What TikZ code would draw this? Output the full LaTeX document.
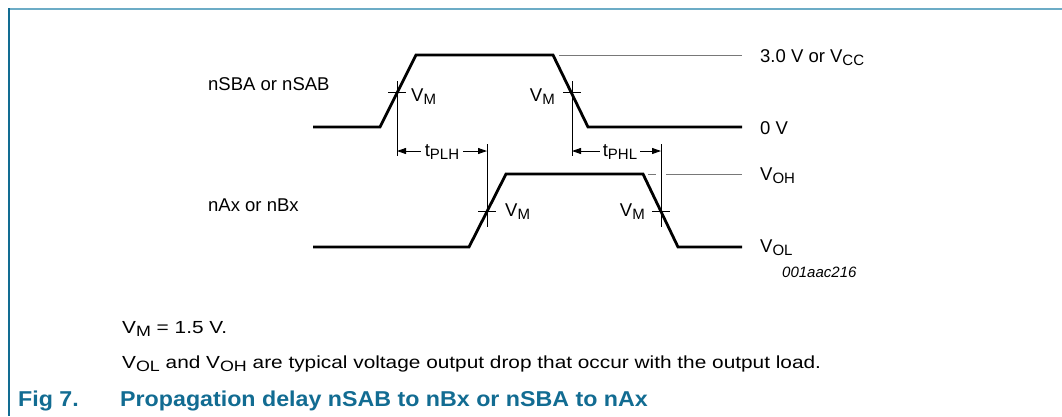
\documentclass[tikz,border=0pt]{standalone}
\usepackage{fontspec}
\setmainfont{Liberation Sans}
\newfontfamily\notefont[FakeStretch=1.19]{Liberation Sans}
\newfontfamily\capfont[FakeStretch=1.08]{Liberation Sans}
\usetikzlibrary{arrows.meta}
\definecolor{figblue}{RGB}{18,108,146}
\definecolor{framelight}{RGB}{108,172,198}
\definecolor{refgray}{RGB}{120,120,120}
\newcommand{\lo}[1]{\raisebox{-3.5pt}{\fontsize{15}{16}\selectfont #1}}
\begin{document}
\begin{tikzpicture}[x=1pt,y=-1pt,
  every node/.style={font=\fontsize{18.5}{22}\selectfont,inner sep=0pt},
  wave/.style={line width=2.8pt,line join=miter,line cap=butt},
  hair/.style={line width=0.9pt},
  reflvl/.style={line width=1pt,draw=refgray},
  dimarrow/.style={line width=0.9pt,-{Triangle[length=9pt,width=6pt]}},
  note/.style={anchor=base west,font=\notefont\fontsize{17.5}{21}\selectfont},
  caption/.style={anchor=base west,font=\capfont\fontsize{21.5}{25}\selectfont\bfseries,text=figblue}]
  \useasboundingbox (0,0) rectangle (1062,416);
  % frame
  \draw[framelight,line width=2pt] (9,9) -- (1062,9);
  \draw[figblue,line width=2pt] (9,8) -- (9,416);
  % input waveform
  \draw[wave] (313,127) -- (380,127) -- (416,55) -- (553,55) -- (588,127) -- (742,127);
  \draw[reflvl] (559,55) -- (742,55);
  % output waveform
  \draw[wave] (313,247) -- (469,247) -- (506,174) -- (643,174) -- (678,247) -- (742,247);
  \draw[reflvl] (648,174) -- (656,174);
  \draw[reflvl] (666,174) -- (742,174);
  % V_M markers
  \coordinate (mA) at (397,92);
  \coordinate (mB) at (572,92);
  \coordinate (mC) at (487,211.5);
  \coordinate (mD) at (661,211.5);
  \draw[hair] (397,81) -- (397,156);
  \draw[hair] (572,81) -- (572,156);
  \draw[hair] (487,144) -- (487,227);
  \draw[hair] (661,144) -- (661,227);
  \foreach \m in {mA,mB,mC,mD}
    \draw[hair] ([xshift=-9pt]\m) -- ([xshift=9pt]\m);
  \node[anchor=base west] (vmA) at (411,101) {V\lo{M}};
  \node[anchor=base east] (vmB) at (555,101) {V\lo{M}};
  \node[anchor=base west] (vmC) at (505,216) {V\lo{M}};
  \node[anchor=base east] (vmD) at (645,216) {V\lo{M}};
  % delays
  \coordinate (plhL) at (397,151);
  \coordinate (plhR) at (487,151);
  \coordinate (phlL) at (572,151);
  \coordinate (phlR) at (661,151);
  \node[anchor=base,inner xsep=4pt] (tplh) at (442,156) {t\lo{PLH}};
  \node[anchor=base,inner xsep=3pt] (tphl) at (620,156) {t\lo{PHL}};
  \draw[dimarrow] (plhL -| tplh.west) -- (plhL);
  \draw[dimarrow] (plhR -| tplh.east) -- (plhR);
  \draw[dimarrow] (phlL -| tphl.west) -- (phlL);
  \draw[dimarrow] (phlR -| tphl.east) -- (phlR);
  % signal names and levels
  \node[anchor=base west] (insig) at (208,90) {nSBA or nSAB};
  \node[anchor=base west] (outsig) at (208,211) {nAx or nBx};
  \node[anchor=base west] (lvlhi) at (760,62) {3.0 V or V\lo{CC}};
  \node[anchor=base west] (lvllo) at (760,134) {0 V};
  \node[anchor=base west] (lvloh) at (760,180) {V\lo{OH}};
  \node[anchor=base west] (lvlol) at (760,252) {V\lo{OL}};
  \node[anchor=base west,font=\fontsize{15}{18}\selectfont\itshape] (figid) at (782,277) {001aac216};
  % notes and caption
  \node[note] (note1) at (122,333) {V\lo{M} = 1.5 V.};
  \node[note] (note2) at (122,368) {V\lo{OL} and V\lo{OH} are typical voltage output drop that occur with the output load.};
  \node[caption] (figno) at (18,406) {Fig 7.};
  \node[caption] (figttl) at (120,406) {Propagation delay nSAB to nBx or nSBA to nAx};
\end{tikzpicture}
\end{document}
